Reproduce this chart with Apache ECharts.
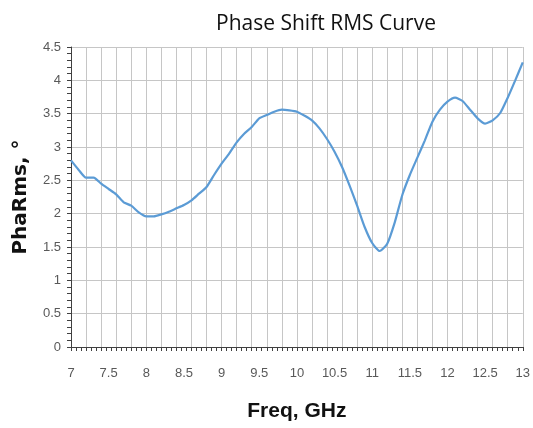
<!DOCTYPE html>
<html>
<head>
<meta charset="utf-8">
<script src="https://cdn.jsdelivr.net/npm/echarts@6/dist/echarts.min.js"></script>
<style>
	html, body { margin: 0; padding: 0; background: #fff; }
	#chart { width: 533px; height: 428px; }
</style>
</head>
<body>
<div id="chart"></div>
<script>
// 频率 (GHz)，步长 0.1
const freqs = [
	7.0, 7.1, 7.2, 7.3, 7.4, 7.5, 7.6, 7.7, 7.8, 7.9,
	8.0, 8.1, 8.2, 8.3, 8.4, 8.5, 8.6, 8.7, 8.8, 8.9,
	9.0, 9.1, 9.2, 9.3, 9.4, 9.5, 9.6, 9.7, 9.8, 9.9,
	10.0, 10.1, 10.2, 10.3, 10.4, 10.5, 10.6, 10.7, 10.8, 10.9,
	11.0, 11.1, 11.2, 11.3, 11.4, 11.5, 11.6, 11.7, 11.8, 11.9,
	12.0, 12.1, 12.2, 12.3, 12.4, 12.5, 12.6, 12.7, 12.8, 12.9,
	13.0,
];
// 相移 RMS (°)
const phaRms = [
	2.80, 2.66, 2.54, 2.54, 2.45, 2.37, 2.29, 2.17, 2.12, 2.02,
	1.96, 1.96, 1.99, 2.03, 2.08, 2.13, 2.20, 2.30, 2.40, 2.58,
	2.75, 2.90, 3.07, 3.20, 3.30, 3.43, 3.48, 3.53, 3.56, 3.55,
	3.53, 3.47, 3.40, 3.28, 3.12, 2.93, 2.70, 2.42, 2.12, 1.80,
	1.56, 1.44, 1.55, 1.87, 2.28, 2.58, 2.84, 3.10, 3.38, 3.56,
	3.68, 3.74, 3.69, 3.56, 3.43, 3.35, 3.40, 3.51, 3.74, 4.00,
	4.27,
];

const titleText = "Phase Shift RMS Curve";
const xName = "Freq, GHz";
const yName = "PhaRms, °";

const chart = echarts.init(document.getElementById("chart"), null, { renderer: "canvas" });

const gridColor = "#c6c6c6";
const axisColor = "#404040";
const labelColor = "#595959";
const labelFont = "'Liberation Sans Narrow', 'Liberation Sans', sans-serif";

const option = {
	animation: false,
	backgroundColor: "#fff",
	title: {
		text: titleText,
		left: 321,
		top: 9,
		textAlign: "center",
		textStyle: {
			fontFamily: "'Open Sans', sans-serif",
			fontWeight: "normal",
			fontSize: 21,
			color: "#111",
		},
	},
	grid: {
		left: 71,
		right: 6,
		top: 47,
		bottom: 81,
	},
	xAxis: [
		{
			// 网格线与刻度 (0.2 间隔)
			type: "value",
			min: 7,
			max: 13,
			interval: 0.2,
			axisLine: { show: true, onZero: false, lineStyle: { color: axisColor } },
			axisTick: { show: true, length: 4, lineStyle: { color: axisColor } },
			minorTick: { show: true, splitNumber: 3, length: 4, lineStyle: { color: axisColor } },
			axisLabel: { show: false },
			splitLine: { show: true, lineStyle: { color: gridColor, width: 1 } },
			name: xName,
			nameLocation: "middle",
			nameGap: 54,
			nameTextStyle: {
				fontFamily: labelFont,
				fontWeight: "bold",
				fontSize: 21,
				color: "#111",
			},
		},
		{
			// 标签 (0.5 间隔)
			type: "value",
			position: "bottom",
			min: 7,
			max: 13,
			interval: 0.5,
			axisLine: { show: false },
			axisTick: { show: false },
			splitLine: { show: false },
			axisLabel: {
				show: true,
				margin: 20,
				fontFamily: labelFont,
				fontSize: 13,
				color: labelColor,
			},
		},
	],
	yAxis: {
		type: "value",
		min: 0,
		max: 4.5,
		interval: 0.5,
		axisLine: { show: true, lineStyle: { color: axisColor } },
		axisTick: { show: true, length: 4, lineStyle: { color: axisColor } },
		minorTick: { show: true, splitNumber: 5, length: 4, lineStyle: { color: axisColor } },
		splitLine: { show: true, lineStyle: { color: gridColor, width: 1 } },
		axisLabel: {
			margin: 10,
			fontFamily: labelFont,
			fontSize: 13,
			color: labelColor,
		},
		name: yName,
		nameLocation: "middle",
		nameGap: 40,
		nameTextStyle: {
			fontFamily: "'DejaVu Sans', sans-serif",
			fontWeight: "bold",
			fontSize: 20,
			color: "#111",
		},
	},
	series: [
		{
			type: "line",
			xAxisIndex: 0,
			data: freqs.map((f, i) => [f, phaRms[i]]),
			showSymbol: false,
			smooth: 0.2,
			lineStyle: { color: "#5b9bd5", width: 2.2 },
		},
	],
};

chart.setOption(option);
</script>
</body>
</html>
